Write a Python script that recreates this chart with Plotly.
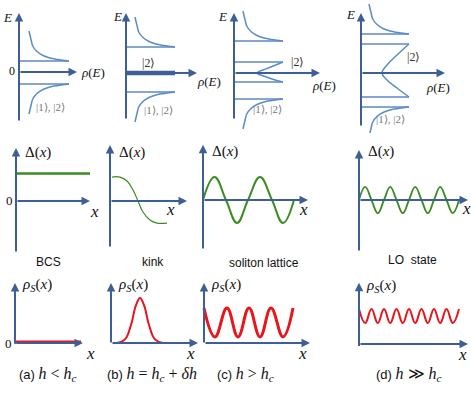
import plotly.graph_objects as go

W, H = 471, 394

AXIS_COLOR = '#3d5f95'
DOS_COLOR = '#5a8cc6'
GAP_COLOR = '#5f88bf'
GREEN = '#3b8c1f'
RED = '#e8151b'
SERIF = 'Liberation Serif'
SANS = 'Liberation Sans'

# ---- top row: density of states rho(E), arbitrary units (a, b, c, d) ----
dos_outer_upper = [1.1, 2.6, 3.2, 3.9]
dos_outer_lower = [-1.2, -1.9, -2.6, -3.4]
dos_inner_upper = [None, None, 1.1, 2.9]
dos_inner_lower = [None, None, -0.9, -2.4]
dos_edge_rho = [5.0, 4.9, 4.9, 4.8]
midgap_rho = 4.9
# shape of the coherence peak tail, measured from the gap edge
tail_drho = [0, -1.1, -1.9, -2.6, -3.2, -3.6, -3.8, -4.0]
tail_de = [0, 0.15, 0.3, 0.55, 0.95, 1.45, 2.15, 3.0]
# in-gap band of panel (c) and (d)
band_c_rho = [4.9, 3.8, 2.9, 2.4, 2.3, 2.4, 2.9, 3.8, 4.9]
band_c_e = [1.1, 0.65, 0.3, 0.1, 0, -0.1, -0.28, -0.6, -0.9]
band_d_rho = [4.8, 3.6, 2.6, 2.1, 2.6, 3.6, 4.8]
band_d_e = [2.9, 1.8, 0.8, 0, -0.7, -1.5, -2.4]

# ---- middle row: order parameter Delta(x) ----
delta_a_x = [0, 7.4]
delta_a_y = [1.2, 1.2]
delta_b_x = [0.2, 1.0, 1.7, 2.3, 2.8, 3.3, 4.0, 4.7, 5.7]
delta_b_y = [1.04, 1.04, 0.87, 0.48, 0, -0.48, -0.83, -0.96, -0.96]
delta_c_x = [0, 1.15, 2.3, 3.4, 4.5, 5.7, 6.9, 8.0, 9.1]
delta_c_y = [0, 1, 0, -1, 0, 1, 0, -1, 0]
delta_d_x = [0, 0.62, 1.25, 1.88, 2.5, 3.12, 3.75, 4.38, 5.0, 5.62, 6.25, 6.88, 7.5, 8.12, 8.75, 9.38, 10.0]
delta_d_y = [0, 0.57, 0, -0.57, 0, 0.57, 0, -0.57, 0, 0.57, 0, -0.57, 0, 0.57, 0, -0.57, 0]

# ---- bottom row: spin density rho_S(x) ----
rhos_a_x = [0, 6.6]
rhos_a_y = [0.03, 0.03]
rhos_b_x = [0.6, 1.4, 2.0, 2.5, 2.9, 3.3, 3.8, 4.4, 5.2]
rhos_b_y = [0.0, 0.1, 0.5, 1.05, 1.25, 1.05, 0.5, 0.1, 0.0]
rhos_c_x = [0, 1.1, 2.3, 3.4, 4.5, 5.6, 6.7, 7.9, 8.9]
rhos_c_y = [0.97, 0.17, 0.97, 0.17, 0.97, 0.17, 0.97, 0.17, 0.97]
rhos_d_x = [0, 0.62, 1.25, 1.88, 2.5, 3.12, 3.75, 4.38, 5.0, 5.62, 6.25, 6.88, 7.5, 8.12, 8.75, 9.38, 10.0]
rhos_d_y = [0.97, 0.58] * 8 + [0.97]

state_labels = ['BCS', 'kink', 'soliton lattice', 'LO&nbsp; state']
case_labels = [
	'(a) <i>h</i> &lt; <i>h<sub>c</sub></i>',
	'(b) <i>h</i> = <i>h<sub>c</sub></i> + <i>δh</i>',
	'(c) <i>h</i> &gt; <i>h<sub>c</sub></i>',
	'(d) <i>h</i> ≫ <i>h<sub>c</sub></i>',
]

# layout: pixel origin of each little coordinate system, and px per unit
ROW_ORIGINS = {
	1: [(19, 72), (126, 73), (234, 73), (361, 73)],
	2: [(16, 201), (110, 201), (203, 200), (359, 200)],
	3: [(15, 343), (111, 343), (204, 343), (359, 344)],
}
ROW_SCALE = {1: (10, 10), 2: (10, 23), 3: (10, 36)}
ROW_YRANGE = {1: (-6, 7.2), 2: (-2.4, 2.5), 3: (-0.45, 1.85)}
XRANGE = (-1.5, 11.5)

fig = go.Figure()
annotations = []

def ref(n):
	s = '' if n == 1 else str(n)
	return 'x' + s, 'y' + s

def add_panel(n, origin, scale, yrange):
	ox, oy = origin
	sx, sy = scale
	x0 = max(ox + XRANGE[0]*sx, 0)
	x1 = min(ox + XRANGE[1]*sx, W)
	y_top = max(oy - yrange[1]*sy, 0)
	y_bot = min(oy - yrange[0]*sy, H)
	s = '' if n == 1 else str(n)
	fig.update_layout({
		'xaxis' + s: dict(
			domain = [x0/W, x1/W],
			range = [(x0 - ox)/sx, (x1 - ox)/sx],
			visible = False,
			anchor = 'y' + s,
		),
		'yaxis' + s: dict(
			domain = [1 - y_bot/H, 1 - y_top/H],
			range = [(oy - y_bot)/sy, (oy - y_top)/sy],
			visible = False,
			anchor = 'x' + s,
		),
	})

def line(n, x, y, color, width, spline=True):
	xr, yr = ref(n)
	fig.add_trace(
		go.Scatter(
			x = x,
			y = y,
			mode = 'lines',
			line = dict(color = color, width = width, shape = 'spline' if spline else 'linear', smoothing = 1.2),
			xaxis = xr,
			yaxis = yr,
			hoverinfo = 'skip',
			showlegend = False,
		)
	)

def arrow(n, tail, tip, width=2):
	xr, yr = ref(n)
	annotations.append(dict(
		x = tip[0], y = tip[1], ax = tail[0], ay = tail[1],
		xref = xr, yref = yr, axref = xr, ayref = yr,
		text = '', showarrow = True,
		arrowhead = 2, arrowsize = 0.85, arrowwidth = width,
		arrowcolor = AXIS_COLOR, standoff = 0,
	))

def label(n, x, y, text, size=13, color='#111', family=SERIF):
	xr, yr = ref(n)
	annotations.append(dict(
		x = x, y = y, xref = xr, yref = yr,
		text = text, showarrow = False,
		font = dict(family = family, size = size, color = color),
		xanchor = 'center', yanchor = 'middle',
	))

n = 0
for row in (1, 2, 3):
	for origin in ROW_ORIGINS[row]:
		n += 1
		add_panel(n, origin, ROW_SCALE[row], ROW_YRANGE[row])

# ---- top row ----
dos_axes = [((0, -5.0), (0, 5.9), (5.8, 0)), ((0, -4.7), (0, 6.0), (7.1, 0)),
	((0, -4.7), (0, 6.0), (8.6, 0)), ((0, -5.4), (0, 6.0), (8.4, 0))]
for i in range(4):
	p = i + 1
	edge = dos_edge_rho[i]
	for gap in (dos_outer_upper[i], dos_outer_lower[i], dos_inner_upper[i], dos_inner_lower[i]):
		if gap is not None:
			line(p, [0, edge], [gap, gap], GAP_COLOR, 1.6, spline=False)
	rho = [edge + d for d in tail_drho]
	line(p, rho, [dos_outer_upper[i] + d for d in tail_de], DOS_COLOR, 1.5)
	line(p, rho, [dos_outer_lower[i] - d for d in tail_de], DOS_COLOR, 1.5)
line(2, [0, midgap_rho], [0, 0], AXIS_COLOR, 4.5, spline=False)
line(3, band_c_rho, band_c_e, DOS_COLOR, 1.5)
line(4, band_d_rho, band_d_e, DOS_COLOR, 1.5)
for i, (vb, vt, ht) in enumerate(dos_axes):
	arrow(i + 1, vb, vt)
	arrow(i + 1, (0, 0), ht)

ket_color = '#777'
label(1, -1.2, 5.5, '<i>E</i>')
label(1, -0.7, 0.1, '0', 12)
label(1, 7.4, 0, '<i>ρ</i>(<i>E</i>)')
label(1, 3.1, -3.5, '|1⟩, |2⟩', 11, ket_color)
label(2, -0.9, 5.6, '<i>E</i>')
label(2, 2.2, 1.0, '|2⟩', 12, '#333')
label(2, 8.3, -0.9, '<i>ρ</i>(<i>E</i>)')
label(2, 3.2, -3.7, '|1⟩, |2⟩', 11, ket_color)
label(3, -1.2, 5.6, '<i>E</i>')
label(3, 6.3, 1.1, '|2⟩', 12, '#333')
label(3, 9.0, -1.3, '<i>ρ</i>(<i>E</i>)')
label(3, 3.3, -3.6, '|1⟩, |2⟩', 11, ket_color)
label(4, -1.1, 5.8, '<i>E</i>')
label(4, 5.2, 1.6, '|2⟩', 12, '#333')
label(4, 7.7, -1.5, '<i>ρ</i>(<i>E</i>)')
label(4, 2.9, -4.6, '|1⟩, |2⟩', 11, ket_color)

# ---- middle row ----
line(5, delta_a_x, delta_a_y, GREEN, 2.5, spline=False)
line(6, delta_b_x, delta_b_y, GREEN, 1.2)
line(7, delta_c_x, delta_c_y, GREEN, 2)
line(8, delta_d_x, delta_d_y, GREEN, 1.8)
delta_axes = [((0, -2.26), (0, 2.3), (7.4, 0)), ((0, -2.04), (0, 2.43), (7.7, 0)),
	((0, -2.17), (0, 2.4), (10.5, 0)), ((0, -2.26), (0, 2.17), (10.9, 0))]
x_labels = [(7.8, -0.45), (6.0, -0.35), (10.0, -0.43), (10.7, -0.35)]
for i, (vb, vt, ht) in enumerate(delta_axes):
	arrow(i + 5, vb, vt)
	arrow(i + 5, (0, 0), ht)
	label(i + 5, 2.2, 2.1, 'Δ(<i>x</i>)', 15)
	label(i + 5, x_labels[i][0], x_labels[i][1], '<i>x</i>', 17)
label(5, -0.7, 0, '0', 13)

# ---- bottom row ----
rhos_axes = [((0, -0.06), (0, 1.67), (6.8, 0)), ((0, -0.03), (0, 1.67), (8.7, 0)),
	((0, -0.03), (0, 1.67), (10.6, 0)), ((0, -0.1), (0, 1.7), (10.9, 0))]
x_labels = [(7.5, -0.3), (7.9, -0.3), (9.8, -0.3), (10.3, -0.28)]
for i, (vb, vt, ht) in enumerate(rhos_axes):
	arrow(i + 9, vb, vt)
	arrow(i + 9, (0, 0), ht)
	label(i + 9, 2.2, 1.6, '<i>ρ<sub>S</sub></i>(<i>x</i>)', 15)
	label(i + 9, x_labels[i][0], x_labels[i][1], '<i>x</i>', 17)
label(9, -0.7, 0, '0', 13)
line(9, rhos_a_x, rhos_a_y, RED, 3, spline=False)
line(10, rhos_b_x, rhos_b_y, RED, 2)
line(11, rhos_c_x, rhos_c_y, RED, 3)
line(12, rhos_d_x, rhos_d_y, RED, 2)

# ---- captions ----
state_pos = [(48, 262), (153, 262), (264, 263), (412, 260)]
case_pos = [(48, 374), (152, 374), (245, 374), (409, 374)]
for text, (px, py) in zip(state_labels, state_pos):
	annotations.append(dict(
		x = px/W, y = 1 - py/H, xref = 'paper', yref = 'paper',
		xanchor = 'center', yanchor = 'middle',
		text = text, showarrow = False,
		font = dict(family = SANS, size = 12, color = '#111'),
	))
for text, (px, py) in zip(case_labels, case_pos):
	head, math = text.split(' ', 1)
	annotations.append(dict(
		x = px/W, y = 1 - py/H, xref = 'paper', yref = 'paper',
		xanchor = 'center', yanchor = 'middle',
		text = f"{head} <span style='font-family:{SERIF};font-size:16px'>{math}</span>",
		showarrow = False,
		font = dict(family = SANS, size = 13, color = '#111'),
	))

fig.update_layout(
	width = W,
	height = H,
	margin = dict(l = 0, r = 0, t = 0, b = 0),
	paper_bgcolor = 'white',
	plot_bgcolor = 'white',
	showlegend = False,
	annotations = annotations,
)
# the page's default body margin would push the whole figure 8px down/right
fig.write_html(
	'out.html',
	config = dict(displayModeBar = False),
	post_script = "document.body.style.margin = '0'; document.body.style.overflow = 'hidden';",
)
